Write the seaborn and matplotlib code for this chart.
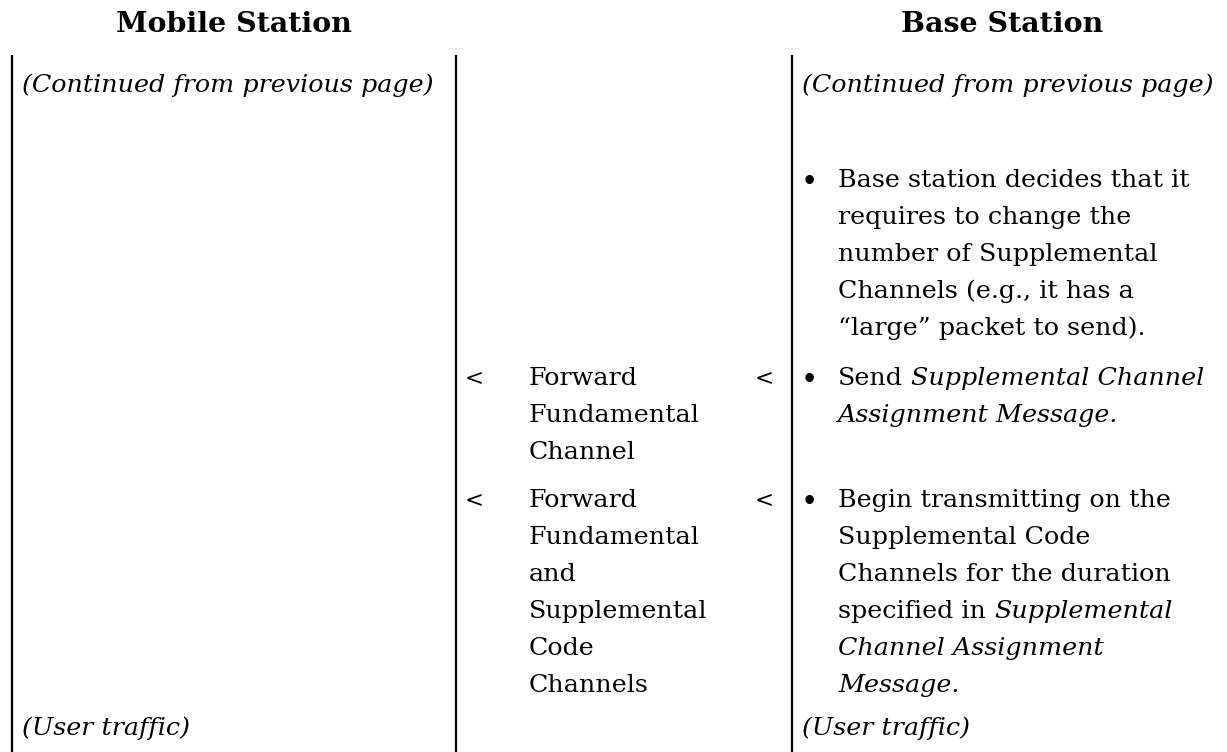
import matplotlib
matplotlib.use("Agg")
import matplotlib.pyplot as plt
import seaborn as sns

# ---- content ----
titles = ["Mobile Station", "Base Station"]
mobile_notes = ["(Continued from previous page)", "(User traffic)"]
base_notes = ["(Continued from previous page)", "(User traffic)"]

channel_1 = ["Forward", "Fundamental", "Channel"]
channel_2 = ["Forward", "Fundamental", "and", "Supplemental", "Code", "Channels"]

# each line is a list of (text, italic) segments
step_1 = [[("Base station decides that it", False)],
          [("requires to change the", False)],
          [("number of Supplemental", False)],
          [("Channels (e.g., it has a", False)],
          [("\u201clarge\u201d packet to send).", False)]]
step_2 = [[("Send", False), ("Supplemental Channel", True)],
          [("Assignment Message.", True)]]
step_3 = [[("Begin transmitting on the", False)],
          [("Supplemental Code", False)],
          [("Channels for the duration", False)],
          [("specified in", False), ("Supplemental", True)],
          [("Channel Assignment", True)],
          [("Message.", True)]]

# ---- style ----
sns.set_theme(style="white")
plt.rcParams["font.family"] = ["DejaVu Serif"]
INK = "black"
FS = 18.3
LH = 37.0

fig = plt.figure(figsize=(12.27, 7.52), dpi=100, facecolor="white")
ax = fig.add_axes([0, 0, 1, 1])
ax.set_xlim(0, 1227); ax.set_ylim(752, 0)
ax.axis("off")
sns.despine(ax=ax, left=True, bottom=True)
renderer = fig.canvas.get_renderer()


def width(s, italic=False):
    t = ax.text(0, 0, s, fontsize=FS, style="italic" if italic else "normal")
    w = t.get_window_extent(renderer).width
    t.remove()
    return w


SPACE = width("x x") - width("xx")


def line(x, y, segs):
    for s, it in segs:
        t = ax.text(x, y, s, fontsize=FS, color=INK, va="baseline", ha="left",
                    style="italic" if it else "normal")
        x = x + t.get_window_extent(renderer).width + SPACE


def bullet(y0, lines):
    ax.text(809, y0 + 4, "\u2022", fontsize=21, color=INK, va="baseline", ha="center")
    for i, segs in enumerate(lines):
        line(838, y0 + i * LH, segs)


# headers
ax.text(234, 32, titles[0], fontsize=20.5, fontweight="bold", color=INK,
        ha="center", va="baseline")
ax.text(1002, 32, titles[1], fontsize=20.5, fontweight="bold", color=INK,
        ha="center", va="baseline")

# column rules
for xv in [12, 456, 792]:
    ax.plot([xv, xv], [55, 752], color=INK, lw=1.6, solid_capstyle="butt")

# notes
for x0, notes in [(22, mobile_notes), (802, base_notes)]:
    line(x0, 92, [(notes[0], True)])
    line(x0, 735, [(notes[1], True)])

# channels in the middle column
for y0, labels in [(385, channel_1), (507, channel_2)]:
    ax.text(474, y0, "<", fontsize=16.5, color=INK, va="baseline", ha="center")
    ax.text(764, y0, "<", fontsize=16.5, color=INK, va="baseline", ha="center")
    for i, lab in enumerate(labels):
        ax.text(529, y0 + i * LH, lab, fontsize=FS, color=INK, va="baseline")

# base station actions
bullet(187, step_1)
bullet(385, step_2)
bullet(507, step_3)

plt.savefig("out.png", dpi=100, facecolor="white")
